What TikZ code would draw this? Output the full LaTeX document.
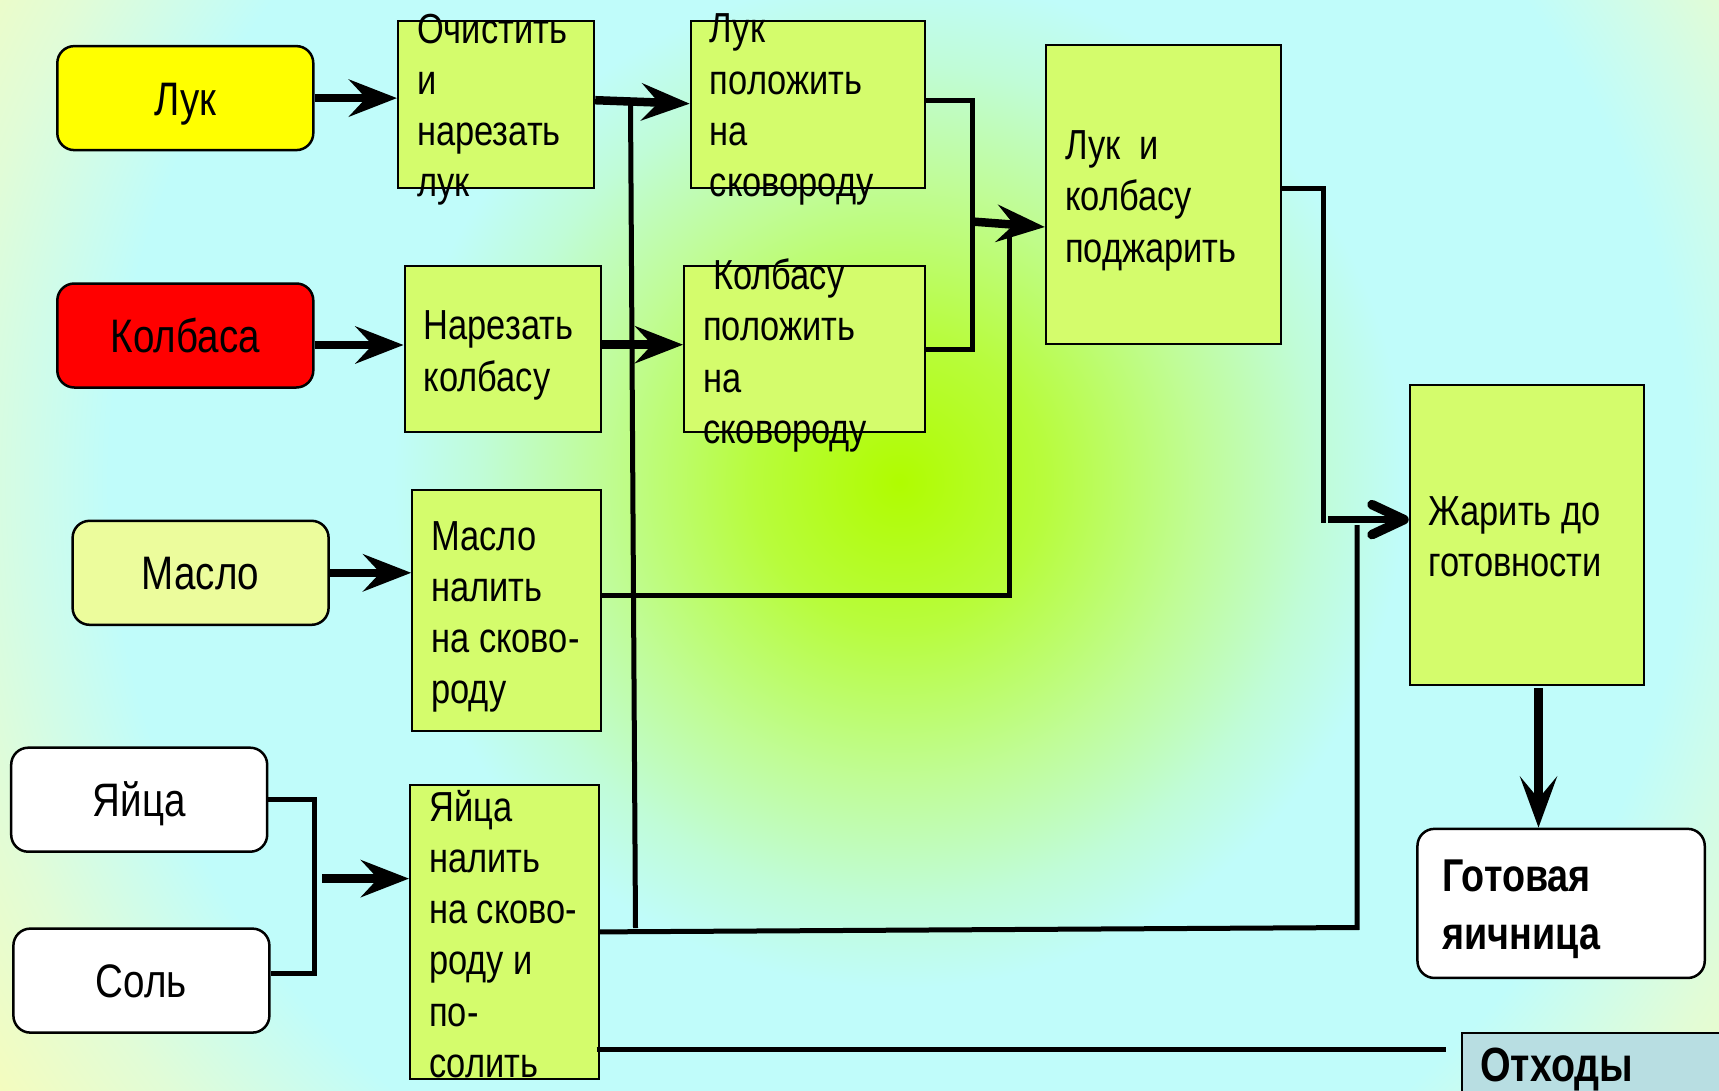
\documentclass[tikz,border=0pt]{standalone}
\usepackage{fontspec}
\setmainfont{Liberation Sans}[FakeStretch=0.82]
\usetikzlibrary{arrows.meta}

% background glow
\definecolor{bgA}{RGB}{176,252,0}
\definecolor{bgB}{RGB}{184,252,60}
\definecolor{bgC}{RGB}{192,252,150}
\definecolor{bgD}{RGB}{192,252,215}
\definecolor{bgE}{RGB}{192,252,250}
\definecolor{bgF}{RGB}{225,252,215}
\definecolor{bgG}{RGB}{246,252,188}
\pgfdeclareradialshading{bgglow}{\pgfpointorigin}{%
  color(0bp)=(bgA); color(3.3bp)=(bgB); color(6.8bp)=(bgC);
  color(9.5bp)=(bgD); color(11.5bp)=(bgE); color(17.95bp)=(bgE);
  color(21.6bp)=(bgF); color(25bp)=(bgG); color(50bp)=(bgG)}

% node fills
\definecolor{procfill}{RGB}{212,252,108}
\definecolor{onionfill}{RGB}{255,255,0}
\definecolor{sausagefill}{RGB}{255,0,0}
\definecolor{oilfill}{RGB}{236,252,156}
\definecolor{wastefill}{RGB}{184,222,226}

\begin{document}
\begin{tikzpicture}[x=1pt,y=-1pt,
  inbox/.style={draw=black, line width=2.5pt, rounded corners=17pt,
    minimum width=256pt, minimum height=104pt, inner sep=0pt,
    text height=39.5pt, text depth=5.4pt,
    font=\fontsize{47}{56}\selectfont},
  procbox/.style={draw=black, line width=2pt, fill=procfill, inner sep=0pt},
  ptext/.style={anchor=west, align=left, inner sep=0pt,
    font=\fontsize{42}{51.2}\selectfont},
  btext/.style={anchor=west, align=left, inner sep=0pt,
    font=\bfseries\fontsize{46}{58}\selectfont},
  thickarrow/.style={line width=8.5pt,
    -{Stealth[length=48pt, width=37pt, inset=17pt]}},
  downarrow/.style={line width=8.5pt,
    -{Stealth[length=51pt, width=37pt, inset=22pt]}},
  barbarrow/.style={line width=7.5pt,
    -{Straight Barb[length=32pt, width=30pt, round, line width=9.5pt]}},
  thinline/.style={line width=5pt},
]
\useasboundingbox (0,0) rectangle (1719,1090);

% background
\begin{scope}
  \clip (0,0) rectangle (1719,1090);
  \shade[shading=bgglow] (899,482) circle (1100);
\end{scope}

% ingredients
\node[inbox, fill=onionfill]   (luk)   at (185.3,98.1)  {Лук};
\node[inbox, fill=sausagefill] (kolb)  at (185.3,335.5) {Колбаса};
\node[inbox, fill=oilfill]     (maslo) at (200.6,572.8) {Масло};
\node[inbox, fill=white]       (yaica) at (139.2,799.7) {Яйца};
\node[inbox, fill=white]       (sol)   at (141.4,980.6) {Соль};

% process steps
\node[procbox, minimum width=196.2pt, minimum height=166.7pt] (b1) at (496.1,104.2) {};
\node[procbox, minimum width=234.6pt, minimum height=166.7pt] (b2) at (808,104.2) {};
\node[procbox, minimum width=196.3pt, minimum height=165.6pt] (b3) at (502.7,349.2) {};
\node[procbox, minimum width=241.2pt, minimum height=165.6pt] (b4) at (804.7,349.2) {};
\node[procbox, minimum width=188.6pt, minimum height=241.2pt] (b5) at (506.5,610.6) {};
\node[procbox, minimum width=188.6pt, minimum height=293.8pt] (b6) at (504.3,931.9) {};
\node[procbox, minimum width=234.6pt, minimum height=299.2pt] (b7) at (1163.2,194.6) {};
\node[procbox, minimum width=234.7pt, minimum height=300.4pt] (b8) at (1527.1,535) {};

% results
\node[inbox, fill=white, minimum width=287.3pt, minimum height=149.1pt] (got) at (1561.1,903.4) {};
\node[draw=black, line width=2pt, fill=wastefill, inner sep=0pt,
      minimum width=280pt, minimum height=80pt] (otx) at (1602,1073) {};

% step texts
\node[ptext] (t1) at ([xshift=20pt,yshift=-5.5pt]b1.west) {Очистить\\и\\нарезать\\лук};
\node[ptext] (t2) at ([xshift=20pt,yshift=-5.5pt]b2.west) {Лук\\положить\\на\\сковороду};
\node[ptext] (t3) at ([xshift=20pt,yshift=-6.3pt]b3.west) {Нарезать\\колбасу};
\node[ptext] (t4) at ([xshift=20pt,yshift=-6.3pt]b4.west) {\hspace*{10pt}Колбасу\\положить\\на\\сковороду};
\node[ptext] (t5) at ([xshift=20pt,yshift=-6.3pt]b5.west) {Масло\\налить\\на сково-\\роду};
\node[ptext] (t6) at ([xshift=20pt,yshift=-2pt]b6.west) {Яйца\\налить\\на сково-\\роду и\\по-\\солить};
\node[ptext] (t7) at ([xshift=20pt,yshift=-6.3pt]b7.west) {Лук\ \ и\\колбасу\\поджарить};
\node[ptext] (t8) at ([xshift=19.5pt,yshift=-2pt]b8.west) {Жарить до\\готовности};
\node[btext] (t9) at ([xshift=26pt,yshift=-6.3pt]got.west) {Готовая\\яичница};
\node[anchor=base west, inner sep=0pt, font=\bfseries\fontsize{48}{58}\selectfont]
  (t10) at ([xshift=19pt]otx.west |- 0,1081.7) {Отходы};

% junction points
\coordinate (vT)  at (630.5,102);
\coordinate (vB)  at (635.5,928);
\coordinate (jY)  at (314,0);
\coordinate (jYa) at (322,878.6);
\coordinate (jL)  at (972,0);
\coordinate (jLa) at (972,221.5);
\coordinate (jMt) at (1009,232);
\coordinate (jK)  at (1323.5,523);
\coordinate (jKa) at (1328,519.6);
\coordinate (jE)  at (1357,927.5);
\coordinate (jEt) at (1357,525);
\coordinate (dn)  at (1538.5,688);
\coordinate (wst) at ([xshift=-3pt,yshift=-117.6pt]b6.east);
\coordinate (wend) at ([xshift=-15pt]otx.west);

% ingredient arrows
\draw[thickarrow] (luk.east) -- (luk.east -| b1.west);
\draw[thickarrow] ([yshift=-9.5pt]kolb.east) -- ([yshift=-9.5pt]kolb.east -| b3.west);
\draw[thickarrow] (maslo.east) -- (maslo.east -| b5.west);
\draw[thinline] (yaica.east) -- (yaica.east -| jY) -- ([yshift=7pt]sol.east -| jY) -- ([yshift=7pt]sol.east);
\draw[thickarrow] (jYa) -- (jYa -| b6.west);

% onion and sausage into the pan
\draw[thickarrow] ([yshift=4pt]b1.east) -- ([yshift=0.5pt]b2.west);
\draw[thickarrow] ([yshift=4.5pt]b3.east) -- ([yshift=4.5pt]b3.east -| b4.west);
\draw[thinline] (vT) -- (vB);
\draw[thinline] ([yshift=3.7pt]b2.east) -- ([yshift=3.7pt]b2.east -| jL) -- (b4.east -| jL) -- (b4.east);
\draw[thinline] ([yshift=15.1pt]b5.east) -- ([yshift=15.1pt]b5.east -| jMt) -- (jMt);
\draw[thickarrow] (jLa) -- ([yshift=-32.4pt]b7.west);

% frying to the end
\draw[thinline] ([yshift=6.2pt]b7.east) -- ([yshift=6.2pt]b7.east -| jK) -- (jK);
\draw[thinline] (b6.east) -- (jE) -- (jEt);
\draw[barbarrow] (jKa) -- (jKa -| b8.west);
\draw[downarrow] (dn) -- (dn |- got.north);
\draw[thinline] (wst) -- (wend |- wst);
\end{tikzpicture}
\end{document}
